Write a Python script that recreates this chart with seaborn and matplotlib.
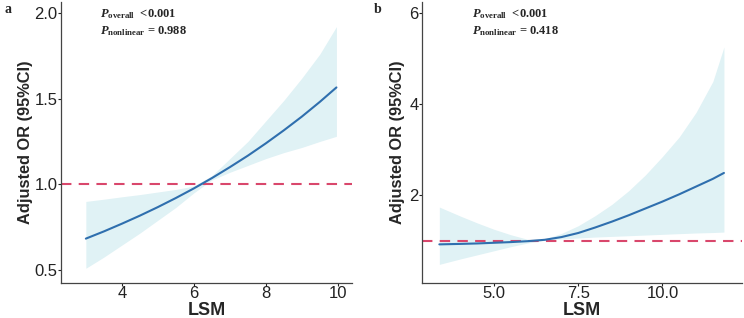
import numpy as np
import pandas as pd
import matplotlib
matplotlib.use("Agg")
import matplotlib.pyplot as plt
import seaborn as sns

# ***** data ***** #
lsm_a = [3.0, 3.5, 4.0, 4.5, 5.0, 5.5, 6.0, 6.5, 7.0, 7.5, 8.0, 8.5, 9.0, 9.5, 9.96]
or_a = [0.683, 0.725, 0.770, 0.817, 0.867, 0.920, 0.976, 1.036, 1.100, 1.167,
        1.239, 1.315, 1.395, 1.481, 1.565]
upper_a = [0.90, 0.913, 0.927, 0.94, 0.955, 0.97, 0.99, 1.05, 1.15, 1.25,
           1.37, 1.49, 1.62, 1.76, 1.92]
lower_a = [0.51, 0.575, 0.645, 0.715, 0.79, 0.865, 0.95, 1.025, 1.07, 1.11,
           1.15, 1.185, 1.215, 1.25, 1.28]

lsm_b = [3.37, 4.0, 4.5, 5.0, 5.5, 6.0, 6.5, 7.0, 7.5, 8.0, 8.5, 9.0,
         9.5, 10.0, 10.5, 11.0, 11.5, 11.83]
or_b = [0.92, 0.93, 0.94, 0.955, 0.97, 0.99, 1.02, 1.08, 1.17, 1.29, 1.42, 1.56,
        1.71, 1.86, 2.02, 2.19, 2.36, 2.49]
upper_b = [1.74, 1.54, 1.39, 1.25, 1.13, 1.03, 1.04, 1.16, 1.33, 1.55, 1.80, 2.10,
           2.45, 2.85, 3.28, 3.82, 4.50, 5.26]
lower_b = [0.48, 0.60, 0.69, 0.78, 0.87, 0.95, 1.01, 1.04, 1.06, 1.08, 1.095, 1.11,
           1.125, 1.14, 1.155, 1.17, 1.18, 1.19]

p_nonlinear = ["0.988", "0.418"]
panel_tags = ["a", "b"]
yticks = [[0.5, 1.0, 1.5, 2.0], [2, 4, 6]]
xticks = [[4, 6, 8, 10], [5.0, 7.5, 10.0]]

sns.set_style("ticks")
plt.rcParams["font.family"] = ["Liberation Sans", "DejaVu Sans"]
plt.rcParams["mathtext.fontset"] = "custom"
plt.rcParams["mathtext.rm"] = "Liberation Serif:bold"
plt.rcParams["mathtext.it"] = "Liberation Serif:italic:bold"
plt.rcParams["mathtext.bf"] = "Liberation Serif:bold"

line_col = "#2f6fae"
band_col = "#e0f2f5"
ref_col = "#d9476c"

fig = plt.figure(figsize=(7.44, 3.18), dpi=100)
ax_a = fig.add_axes([0.082, 0.110, 0.391, 0.884])
ax_b = fig.add_axes([0.567, 0.110, 0.430, 0.884])

panels = [
    (ax_a, lsm_a, or_a, upper_a, lower_a, (2.31, 10.39), (0.424, 2.064), 0.134, -0.122),
    (ax_b, lsm_b, or_b, upper_b, lower_b, (2.85, 12.36), (0.07, 6.25), 0.156, -0.076),
]

for i, (ax, x, y, hi, lo, xl, yl, tx, ylab_x) in enumerate(panels):
    df = pd.DataFrame({"LSM": x, "OR": y, "hi": hi, "lo": lo})
    ax.fill_between(df["LSM"], df["lo"], df["hi"], color=band_col, lw=0, zorder=1)
    ax.axhline(1.0, color=ref_col, ls=(0, (5, 3.5)), lw=1.5, zorder=2)
    sns.lineplot(data=df, x="LSM", y="OR", ax=ax, color=line_col, lw=1.5, zorder=3)
    ax.set_xlim(*xl)
    ax.set_ylim(*yl)
    ax.set_xticks(xticks[i])
    ax.set_yticks(yticks[i])
    if i == 1:
        ax.set_xticklabels(["5.0", "7.5", "10.0"])
    ax.tick_params(labelsize=12, colors="#222222", length=2, width=0.8, pad=0.5)
    ax.set_xlabel("LSM", fontsize=13, fontweight="bold")
    ax.set_ylabel("Adjusted OR (95%CI)", fontsize=11.8, fontweight="bold")
    ax.xaxis.set_label_coords(0.5, -0.096)
    ax.xaxis.label.set_va("center")
    ax.yaxis.set_label_coords(ylab_x, 0.5)
    ax.yaxis.label.set_va("center")
    for s in ["left", "bottom"]:
        ax.spines[s].set_color("#444444")
        ax.spines[s].set_linewidth(0.9)
    sns.despine(ax=ax)
    ax.text(tx, 0.955, r"$P_{\mathrm{overall}}$  <0.001", transform=ax.transAxes,
            fontsize=9, family="Liberation Serif", fontweight="bold", va="center")
    ax.text(tx, 0.895, r"$P_{\mathrm{nonlinear}}$ = " + p_nonlinear[i], transform=ax.transAxes,
            fontsize=9, family="Liberation Serif", fontweight="bold", va="center")

fig.text(0.006, 0.958, panel_tags[0], fontsize=10, family="Liberation Serif", fontweight="bold")
fig.text(0.503, 0.958, panel_tags[1], fontsize=10, family="Liberation Serif", fontweight="bold")

fig.savefig("out.png", dpi=100)
